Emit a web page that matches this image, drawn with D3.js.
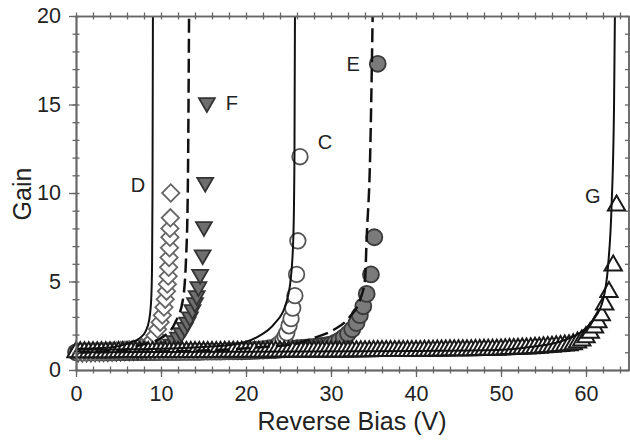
<!DOCTYPE html>
<html>
<head>
<meta charset="utf-8">
<script src="https://cdn.jsdelivr.net/npm/d3@7"></script>
<style>
  body { margin: 0; background: #fff; }
  text { font-family: "Liberation Sans", Arial, sans-serif; }
</style>
</head>
<body>
<div id="chart-area"></div>
<script>
// Gain vs reverse bias, five devices (C..G)

// G - open triangles
var gBias = [0,0.5,1,1.5,2,2.5,3,3.5,4,4.5,5,5.5,6,6.5,7,7.5,8,8.5,9,9.5,
  10,10.5,11,11.5,12,12.5,13,13.5,14,14.5,15,15.5,16,16.5,17,17.5,18,18.5,19,19.5,
  20,20.5,21,21.5,22,22.5,23,23.5,24,24.5,25,25.5,26,26.5,27,27.5,28,28.5,29,29.5,
  30,30.5,31,31.5,32,32.5,33,33.5,34,34.5,35,35.5,36,36.5,37,37.5,38,38.5,39,39.5,
  40,40.5,41,41.5,42,42.5,43,43.5,44,44.5,45,45.5,46,46.5,47,47.5,48,48.5,49,49.5,
  50,50.5,51,51.5,52,52.5,53,53.5,54,54.5,55,55.5,56,56.5,57,57.5,
  58,58.5,59,59.5,60,60.5,61,61.4,61.8,62.2,62.7,63.2,63.6];
var gGain = [1.00,1.00,1.00,1.00,1.00,1.00,1.00,1.00,1.00,1.00,1.01,1.01,1.01,1.01,1.01,1.01,1.01,1.01,1.01,1.01,
  1.01,1.01,1.01,1.01,1.01,1.02,1.02,1.02,1.02,1.02,1.02,1.02,1.02,1.02,1.02,1.03,1.03,1.03,1.03,1.03,
  1.03,1.03,1.03,1.03,1.03,1.04,1.04,1.04,1.04,1.04,1.04,1.04,1.04,1.04,1.04,1.05,1.05,1.05,1.05,1.05,
  1.05,1.05,1.05,1.05,1.05,1.06,1.06,1.06,1.06,1.06,1.07,1.07,1.07,1.07,1.07,1.08,1.08,1.08,1.08,1.08,
  1.08,1.08,1.09,1.09,1.09,1.10,1.10,1.10,1.11,1.11,1.11,1.12,1.12,1.12,1.13,1.13,1.14,1.14,1.15,1.15,
  1.16,1.17,1.18,1.19,1.20,1.21,1.22,1.23,1.25,1.26,1.28,1.30,1.32,1.34,1.36,1.38,
  1.40,1.46,1.55,1.66,1.85,2.1,2.4,2.7,3.1,3.7,4.4,5.9,9.3];

// E - filled circles
var eBias = [0,0.5,1,1.5,2,2.5,3,3.5,4,4.5,5,5.5,6,6.5,7,7.5,8,8.5,9,9.5,
  10,10.5,11,11.5,12,12.5,13,13.5,14,14.5,15,15.5,16,16.5,17,17.5,18,18.5,19,19.5,
  20,20.5,21,21.5,22,22.5,23,23.5,24,24.5,25,25.5,26,26.5,27,27.5,28,28.5,29,29.5,
  30,30.5,31,31.5,32,32.5,33,33.4,33.8,34.2,34.7,35.1,35.5];
var eGain = [1.00,1.00,1.00,1.00,1.00,1.00,1.00,1.00,1.00,1.00,1.01,1.01,1.01,1.01,1.01,1.01,1.01,1.01,1.01,1.01,
  1.02,1.02,1.02,1.02,1.02,1.03,1.03,1.03,1.03,1.03,1.04,1.04,1.04,1.04,1.04,1.05,1.05,1.05,1.05,1.05,
  1.06,1.07,1.08,1.09,1.10,1.11,1.12,1.13,1.15,1.17,1.19,1.21,1.23,1.25,1.27,1.29,1.31,1.34,1.37,1.40,
  1.45,1.55,1.68,1.85,2.05,2.3,2.65,3.1,3.6,4.3,5.4,7.5,17.3];

// C - open circles
var cBias = [0.25,0.75,1.25,1.75,2.25,2.75,3.25,3.75,4.25,4.75,5.25,5.75,6.25,6.75,7.25,7.75,8.25,8.75,9.25,9.75,
  10.25,10.75,11.25,11.75,12.25,12.75,13.25,13.75,14.25,14.75,15.25,15.75,16.25,16.75,17.25,17.75,18.25,18.75,19.25,19.75,
  20.25,20.75,21.25,21.75,22.25,22.75,
  23.2,23.6,24.0,24.35,24.6,24.8,25.06,25.3,25.5,25.75,25.95,26.1,26.35];
var cGain = [1.00,1.00,1.00,1.00,1.00,1.00,1.00,1.00,1.00,1.00,1.01,1.01,1.01,1.01,1.01,1.01,1.01,1.01,1.01,1.01,
  1.02,1.02,1.02,1.02,1.02,1.03,1.03,1.03,1.03,1.03,1.04,1.04,1.04,1.04,1.04,1.06,1.07,1.08,1.09,1.10,
  1.12,1.14,1.16,1.18,1.21,1.24,
  1.28,1.38,1.52,1.7,1.9,2.1,2.5,2.9,3.5,4.2,5.4,7.3,12.05];

// F - filled down triangles
var fBias = [0.25,0.75,1.25,1.75,2.25,2.75,3.25,3.75,4.25,4.75,5.25,5.75,6.25,6.75,7.25,7.75,8.25,8.75,9.25,9.75,10.25,
  10.7,11.2,11.6,12.0,12.4,12.8,13.1,13.4,13.7,14.0,14.2,14.4,14.6,14.9,15.05,15.2,15.4];
var fGain = [1.00,1.00,1.01,1.01,1.02,1.02,1.03,1.03,1.04,1.05,1.06,1.07,1.08,1.09,1.10,1.12,1.14,1.16,1.18,1.21,1.25,
  1.32,1.45,1.65,1.85,2.1,2.4,2.7,3.0,3.4,3.8,4.2,4.7,5.4,6.5,8.1,10.6,15.1];

// D - open diamonds
var dBias = [0.25,0.75,1.25,1.75,2.25,2.75,3.25,3.75,4.25,4.75,5.25,5.75,6.25,6.75,7.25,7.75,8.25,
  8.7,9.0,9.3,9.6,9.9,10.15,10.35,10.5,10.65,10.75,10.85,10.9,10.95,11.0,11.05,11.05,11.1,11.15];
var dGain = [1.00,1.00,1.01,1.01,1.02,1.03,1.04,1.05,1.06,1.08,1.10,1.12,1.15,1.18,1.22,1.27,1.33,
  1.5,1.7,1.95,2.3,2.7,3.1,3.55,4.0,4.45,4.85,5.3,5.8,6.35,6.9,7.5,8.0,8.6,10.0];

// fitted curves
var fitD = [[0,1.2],[3,1.24],[5,1.35],[6.4,1.55],[7.5,1.8],[8.2,2.2],[8.6,2.8],[8.85,4],[8.95,6],[9.0,10],[9.05,20]];
var fitF = [[0,1.0],[5.5,1.13],[7.5,1.4],[10.2,1.86],[11.65,2.66],[12.55,3.9],[12.94,6.2],[13.15,10],[13.3,20]];
var fitC = [[0,1.15],[10,1.2],[15,1.3],[18.9,1.47],[21.3,1.86],[23.4,2.65],[24.6,3.6],[25.25,5.1],[25.57,7.5],[25.7,12],[25.76,20]];
var fitE = [[0,1.0],[15,1.1],[22,1.3],[26,1.5],[27.9,1.8],[30.3,2.26],[32.2,3.0],[33.4,3.95],[34.0,5.1],[34.2,7.5],[34.6,12],[34.9,20]];
var fitG = [[0,1.0],[20,1.03],[40,1.08],[49.5,1.13],[53.4,1.3],[56.9,1.6],[59.3,2.1],[60.8,2.8],[62.0,3.95],[62.6,5.9],[63.0,9.15],[63.3,15],[63.4,20]];

var labels = [["D",7.3,10.45],["F",18.35,15.1],["C",29.3,12.9],["E",32.6,17.3],["G",60.8,9.85]];

var xMajor = [0,10,20,30,40,50,60];
var yMajor = [0,5,10,15,20];

var margin = { left:76, right:1.5, top:16, bottom:70 },
    width = 630 - margin.left - margin.right,
    height = 440 - margin.top - margin.bottom;

var svg = d3.select("#chart-area").append("svg")
    .attr("width", 630)
    .attr("height", 440);

var g = svg.append("g")
    .attr("transform", "translate(" + margin.left + "," + margin.top + ")");

var x = d3.scaleLinear().domain([0, 65]).range([0, width]);
var y = d3.scaleLinear().domain([0, 20]).range([height, 0]);

g.append("clipPath").attr("id", "plot")
  .append("rect").attr("x", -10).attr("width", width + 10).attr("height", height);

function zip(a, b) { return a.map(function(v, i) { return [v, b[i]]; }); }

// markers (G last so its open triangles give the hatched band)
var series = [
  { pts: zip(eBias, eGain), type: d3.symbolCircle,   size: 200, rot: 0,   fill: "#7a7a7a", stroke: "#3a3a3a", sw: 1.8 },
  { pts: zip(cBias, cGain), type: d3.symbolCircle,   size: 190, rot: 0,   fill: "#fff",    stroke: "#555",    sw: 1.8 },
  { pts: zip(fBias, fGain), type: d3.symbolTriangle, size: 110, rot: 180, fill: "#6e6e6e", stroke: "#333",    sw: 1.8 },
  { pts: zip(dBias, dGain), type: d3.symbolSquare,   size: 150, rot: 45,  fill: "#fff",    stroke: "#666",    sw: 1.8 },
  { pts: zip(gBias, gGain), type: d3.symbolTriangle, size: 130, rot: 0,   fill: "#fff",    stroke: "#1a1a1a", sw: 2 }
];

var marks = g.append("g").attr("clip-path", "url(#plot)");
series.forEach(function(s) {
  var sym = d3.symbol().type(s.type).size(s.size);
  marks.append("g").selectAll("path").data(s.pts).enter().append("path")
    .attr("d", sym)
    .attr("transform", function(d) {
      return "translate(" + x(d[0]) + "," + y(d[1]) + ") rotate(" + s.rot + ")";
    })
    .attr("fill", s.fill)
    .attr("stroke", s.stroke)
    .attr("stroke-width", s.sw);
});

// fit lines
var line = d3.line()
    .x(function(d) { return x(d[0]); })
    .y(function(d) { return y(d[1]); })
    .curve(d3.curveMonotoneX);

var fits = [[fitD, false], [fitF, true], [fitC, false], [fitE, true], [fitG, false]];
var lines = g.append("g").attr("clip-path", "url(#plot)");
fits.forEach(function(f) {
  lines.append("path")
    .attr("d", line(f[0]))
    .attr("fill", "none")
    .attr("stroke", "#111")
    .attr("stroke-width", f[1] ? 2.5 : 2)
    .attr("stroke-dasharray", f[1] ? "14,6" : null);
});

// axes
var minorX = d3.range(0, 65, 2), minorY = d3.range(0, 21, 1);
function styleAxis(sel) {
  sel.select(".domain").attr("stroke", "#666").attr("stroke-width", 1.5);
  sel.selectAll(".tick line").attr("stroke", "#666").attr("stroke-width", 1.3);
  sel.selectAll(".tick text").attr("fill", "#222").style("font-size", "21.5px")
    .style("font-family", "'Liberation Sans', Arial, sans-serif");
}
function crossTicks(axisA, axisB, pos) {
  [axisA, axisB].forEach(function(a) {
    g.append("g").attr("transform", pos)
      .call(a.tickSize(3.5).tickSizeOuter(0).tickFormat(""))
      .call(styleAxis);
  });
}

g.append("g").attr("transform", "translate(0," + height + ")")
  .call(d3.axisBottom(x).tickValues(xMajor).tickSize(7).tickSizeOuter(0).tickPadding(9))
  .call(styleAxis);
crossTicks(d3.axisTop(x).tickValues(minorX), d3.axisBottom(x).tickValues(minorX), "translate(0," + height + ")");
crossTicks(d3.axisTop(x).tickValues(minorX), d3.axisBottom(x).tickValues(minorX), "translate(0,0)");

g.append("g")
  .call(d3.axisLeft(y).tickValues(yMajor).tickSize(7).tickSizeOuter(0).tickPadding(8))
  .call(styleAxis);
crossTicks(d3.axisLeft(y).tickValues(minorY), d3.axisRight(y).tickValues(minorY), "translate(0,0)");
crossTicks(d3.axisLeft(y).tickValues(minorY), d3.axisRight(y).tickValues(minorY), "translate(" + width + ",0)");

// series labels
g.append("g").selectAll("text").data(labels).enter().append("text")
  .attr("x", function(d) { return x(d[1]); })
  .attr("y", function(d) { return y(d[2]); })
  .attr("dy", "0.36em")
  .attr("text-anchor", "middle")
  .style("font-size", "20px")
  .attr("fill", "#222")
  .text(function(d) { return d[0]; });

// axis titles
svg.append("text")
  .attr("x", 352).attr("y", 430)
  .attr("text-anchor", "middle")
  .style("font-size", "25px").attr("fill", "#222")
  .text("Reverse Bias (V)");
svg.append("text")
  .attr("transform", "translate(31,194) rotate(-90)")
  .attr("text-anchor", "middle")
  .style("font-size", "25px").attr("fill", "#222")
  .text("Gain");
</script>
</body>
</html>
